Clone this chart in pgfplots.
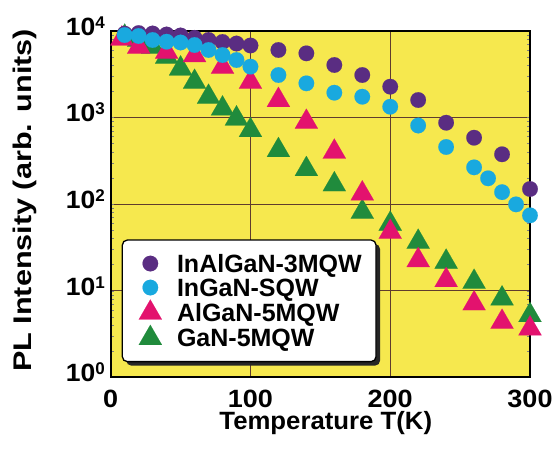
\documentclass[border=0pt]{standalone}
\usepackage{fontspec}
\setmainfont{Liberation Sans}
\usepackage{pgfplots}
\pgfplotsset{compat=1.18}
\usetikzlibrary{shadows}

\definecolor{plotbg}{RGB}{246,232,78}
\definecolor{gridc}{RGB}{95,60,45}
\definecolor{cInAlGaN}{RGB}{90,45,130}
\definecolor{cInGaN}{RGB}{25,169,223}
\definecolor{cAlGaN}{RGB}{227,18,110}
\definecolor{cGaN}{RGB}{32,139,60}

\makeatletter
\tikzset{no preactions/.code={\let\tikz@preactions\pgfutil@empty}}
\makeatother

% power-of-ten tick label
\newcommand{\dec}[1]{\scalebox{1.06}[1]{10}\raisebox{7pt}{\fontsize{17}{17}\selectfont #1}}
\newcommand{\wide}[1]{\scalebox{1.08}[1]{#1}}

% PL intensity vs temperature (T in K, intensity in arb. units)
\pgfplotstableread{
T     I
10    9250
20    9400
30    9290
40    9040
50    8810
60    8280
70    7820
80    7410
90    7110
100   6750
120   5990
140   5480
160   4020
180   3080
200   2260
220   1585
240   867
260   582
280   375
300   149
}\InAlGaN
\pgfplotstableread{
T     I
10    8910
20    8690
30    7810
40    7470
50    7310
60    6840
70    5990
80    5240
90    4590
100   3850
120   3080
140   2470
160   1925
180   1730
200   1327
220   805
240   455
260   265
270   198
280   137
290   99
300   74
}\InGaN
\pgfplotstableread{
T     I
8     8100
20    6500
40    5690
60    5200
80    3820
100   2560
120   1580
140   885
160   400
180   132
200   47.5
220   22.4
240   13.2
260   7.1
280   4.35
300   3.65
}\AlGaN
\pgfplotstableread{
T     I
10    8500
20    7830
30    6500
40    4980
50    3650
60    2560
70    1720
80    1260
90    967
100   710
120   417
140   252
160   168
180   81
200   59
220   36.5
240   21.5
260   12.6
280   8.1
300   5.2
}\GaN

\begin{document}
\begin{tikzpicture}
\begin{axis}[
  scale only axis,
  width=419.3pt, height=346.6pt,
  xmin=0, xmax=300, ymode=log, ymin=1, ymax=10000,
  xtick={0,100,200,300},
  xticklabels={\wide{0},\wide{100},\wide{200},\wide{300}},
  ytick={1,10,100,1000,10000},
  yticklabels={\dec{0},\dec{1},\dec{2},\dec{3},\dec{4}},
  ticklabel style={font=\bfseries\fontsize{25}{25}\selectfont, inner sep=0pt},
  xticklabel style={anchor=base, yshift=-29.7pt},
  yticklabel style={anchor=base east, xshift=-5.7pt, yshift=-4.5pt},
  major tick length=0pt,
  minor tick num=0,
  grid=major,
  major grid style={gridc, line width=0.8pt},
  axis line style={black, line width=2pt},
  axis background/.style={fill=plotbg},
  clip=false,
  xlabel={\scalebox{1.03}[1]{Temperature T(K)}},
  xlabel style={at={(axis description cs:0.513,-0.152)}, anchor=base,
    font=\bfseries\fontsize{25}{25}\selectfont},
  ylabel={\scalebox{1.2}[1]{PL Intensity (arb. units)}},
  ylabel style={at={(axis description cs:-0.2044,0.51)}, anchor=center,
    font=\bfseries\fontsize{25.5}{25.5}\selectfont},
  legend cell align=left,
  legend style={
    at={(axis description cs:0.0262,0.0433)}, anchor=south west,
    draw=black, line width=1.3pt, fill=white, rounded corners=5pt,
    drop shadow={shadow xshift=4pt, shadow yshift=-4pt, fill=black!85, opacity=1},
    inner xsep=14pt, inner ysep=11.5pt,
    font=\bfseries\fontsize{25}{25}\selectfont,
    nodes={no preactions, inner sep=0pt, text height=20.8pt, text depth=3.2pt,
      text width=185pt, align=left},
    /tikz/every odd column/.append style={column sep=12.7pt},
  },
  circ/.style={only marks, mark=*, mark size=7.8pt, color=#1,
    mark options={solid, fill=#1, draw=#1, line width=0.1pt}},
  tri/.style={only marks, mark=triangle*, mark size=13.3pt, color=#1,
    mark options={solid, fill=#1, draw=#1, line width=0.1pt}},
  legimg/.style={legend image code/.code={
    \path[no preactions, draw=none, fill=none] (-14pt,-12pt) rectangle (14pt,12pt);
    \draw[no preactions, sharp corners, ##1] plot coordinates {(0pt,0pt)};}},
]
% legend entries
\addlegendimage{circ=cInAlGaN, legimg}
\addlegendentry{InAlGaN-3MQW}
\addlegendimage{circ=cInGaN, legimg}
\addlegendentry{InGaN-SQW}
\addlegendimage{tri=cAlGaN, legimg}
\addlegendentry{AlGaN-5MQW}
\addlegendimage{tri=cGaN, legimg}
\addlegendentry{GaN-5MQW}

% data, drawn back to front
\addplot[tri=cGaN, forget plot] table[x=T, y=I] {\GaN};
\addplot[tri=cAlGaN, forget plot] table[x=T, y=I] {\AlGaN};
\addplot[circ=cInAlGaN, forget plot] table[x=T, y=I] {\InAlGaN};
\addplot[circ=cInGaN, forget plot] table[x=T, y=I] {\InGaN};
\end{axis}
\path (current axis.south west) ++(-110.7pt,-83.7pt) rectangle ++(553pt,461pt);
\end{tikzpicture}
\end{document}
